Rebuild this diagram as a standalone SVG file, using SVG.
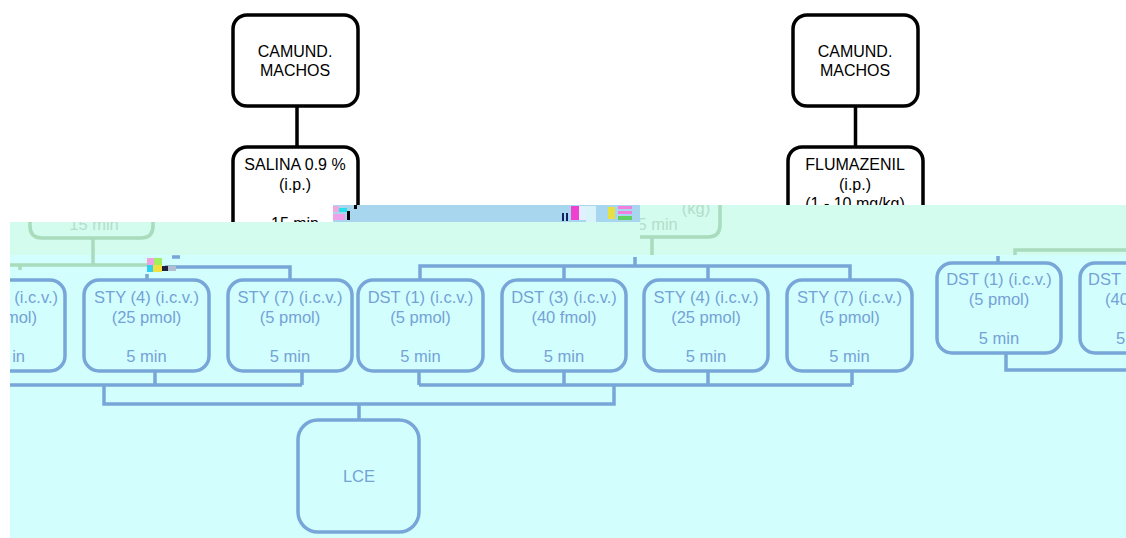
<svg xmlns="http://www.w3.org/2000/svg" width="1126" height="538" viewBox="0 0 1126 538">
<style>
.bk{fill:#fff;stroke:#000;stroke-width:3.5}
.bt{font-family:"Liberation Sans",Arial,sans-serif;font-size:16px;fill:#000;text-anchor:middle}
.bl{fill:none;stroke:#78a6d8;stroke-width:3.5}
.bn{fill:none;stroke:#78a6d8;stroke-width:3.5}
.tx{font-family:"Liberation Sans",Arial,sans-serif;font-size:16.5px;fill:#74a2d6;text-anchor:middle}
.gr{fill:none;stroke:#a8dcbc;stroke-width:3.5}
.gt{font-family:"Liberation Sans",Arial,sans-serif;font-size:16.5px;fill:#b4decb;text-anchor:middle}
</style>
<defs>
<clipPath id="cL"><rect x="10" y="222" width="1116" height="316"/></clipPath>
<clipPath id="cR"><rect x="640" y="205" width="486" height="333"/></clipPath>
<clipPath id="cB"><rect x="10" y="255" width="1116" height="283"/></clipPath>
</defs>
<rect width="1126" height="538" fill="#fff"/>

<g id="n-camund-left">
<rect class="bk" x="233" y="15" width="125" height="91" rx="14"/>
<text class="bt" x="295" y="57">CAMUND.</text>
<text class="bt" x="295" y="76">MACHOS</text>
</g>
<g id="n-salina">
<rect class="bk" x="233" y="147" width="125" height="120" rx="14"/>
<text class="bt" x="295" y="170" font-size="17.2">SALINA 0.9 %</text>
<text class="bt" x="295" y="190" font-size="17">(i.p.)</text>
<text class="bt" x="295" y="229" font-size="17">15 min</text>
</g>
<g id="n-camund-right">
<rect class="bk" x="793" y="15" width="125" height="91" rx="14"/>
<text class="bt" x="855" y="57">CAMUND.</text>
<text class="bt" x="855" y="76">MACHOS</text>
</g>
<g id="n-flumazenil">
<rect class="bk" x="788" y="147" width="135" height="120" rx="14"/>
<text class="bt" x="855" y="170" font-size="17">FLUMAZENIL</text>
<text class="bt" x="855" y="190" font-size="17">(i.p.)</text>
<text class="bt" x="855" y="209" font-size="17">(1 - 10 mg/kg)</text>
</g>
<g id="top-connectors">
<path d="M297 106V147M855.5 106V147" stroke="#000" stroke-width="3.5" fill="none"/>
</g>

<rect x="10" y="222" width="1116" height="33" fill="#d3fbee"/>
<rect x="640" y="205" width="486" height="17" fill="#d3fbee"/>
<g id="glitch-strip">
<rect x="333" y="205" width="307" height="17" fill="#a7d6ee"/>
<rect x="333" y="206" width="6" height="6" fill="#f3a6dc"/>
<rect x="339" y="208" width="8" height="4" fill="#28e0ea"/>
<rect x="333" y="214" width="12" height="6" fill="#f0a0e8"/>
<rect x="347" y="211" width="3" height="9" fill="#000"/>
<rect x="354" y="205" width="3" height="4" fill="#000"/>
<rect x="562" y="213" width="2" height="8" fill="#102060"/>
<rect x="566" y="213" width="2" height="8" fill="#102060"/>
<rect x="571" y="206" width="8" height="14" fill="#f040d0"/>
<rect x="579" y="206" width="7" height="14" fill="#e0f0ff"/>
<rect x="586" y="206" width="10" height="16" fill="#d8f4fa"/>
<rect x="608" y="207" width="7" height="12" fill="#e8e040"/>
<rect x="618" y="206" width="14" height="3" fill="#f080e0"/>
<rect x="618" y="211" width="14" height="3" fill="#f080e0"/>
<rect x="618" y="216" width="14" height="4" fill="#60d060"/>
</g>
<rect x="10" y="255" width="1116" height="283" fill="#d3fefe"/>

<g id="n-green-left" clip-path="url(#cL)">
<path class="gr" d="M30 210V226Q30 238 42 238H141Q153 238 153 226V210"/>
<text class="gt" x="94" y="230">15 min</text>
</g>
<g id="n-green-right" clip-path="url(#cR)">
<path class="gr" d="M585 200V225Q585 237 597 237H708Q720 237 720 225V200"/>
<text class="gt" x="696" y="214">(kg)</text>
<text class="gt" x="653" y="230">15 min</text>
</g>

<g id="connectors">
<path class="gr" d="M93 238V265M10 265H148M20 265V270M652 237V255M1015 255V250H1126"/>
<g clip-path="url(#cB)">
<path class="bl" d="M165 267H290V280M147 274V280M172 257H180M420 280V266H850V280M564 266V280M708 266V280M635 257V266M998 256V263"/>
<path class="bl" d="M10 385H302M155 371V385M302 371V385M104 385V404H614V385M419 385H852M419 371V385M564 371V385M708 371V385M852 371V385M359 404V420M1006 353V370H1126"/>
</g>
<g id="glitch-blob">
<rect x="147" y="258" width="7" height="7" fill="#f0a0e0"/>
<rect x="154" y="258" width="8" height="7" fill="#a0f060"/>
<rect x="147" y="265" width="6" height="7" fill="#30d0f0"/>
<rect x="153" y="265" width="9" height="7" fill="#f0e040"/>
<rect x="162" y="266" width="6" height="5" fill="#202040"/>
<rect x="168" y="266" width="8" height="5" fill="#b0c0d0"/>
</g>
</g>

<g clip-path="url(#cB)">
<g id="n-a">
<rect class="bn" x="-60" y="280" width="125" height="91" rx="15"/>
<text class="tx" x="58" y="303" style="text-anchor:end">(i.c.v.)</text>
<text class="tx" x="37" y="323" style="text-anchor:end">mol)</text>
<text class="tx" x="25" y="362" style="text-anchor:end">in</text>
</g>
<g id="n-sty4">
<rect class="bn" x="84" y="280" width="125" height="91" rx="15"/>
<text class="tx" x="146.5" y="303">STY (4) (i.c.v.)</text>
<text class="tx" x="146.5" y="323">(25 pmol)</text>
<text class="tx" x="146.5" y="362">5 min</text>
</g>
<g id="n-sty7">
<rect class="bn" x="228" y="280" width="124" height="91" rx="15"/>
<text class="tx" x="290" y="303">STY (7) (i.c.v.)</text>
<text class="tx" x="290" y="323">(5 pmol)</text>
<text class="tx" x="290" y="362">5 min</text>
</g>
<g id="n-dst1">
<rect class="bn" x="358" y="280" width="125" height="91" rx="15"/>
<text class="tx" x="420.5" y="303">DST (1) (i.c.v.)</text>
<text class="tx" x="420.5" y="323">(5 pmol)</text>
<text class="tx" x="420.5" y="362">5 min</text>
</g>
<g id="n-dst3">
<rect class="bn" x="502" y="280" width="124" height="91" rx="15"/>
<text class="tx" x="564" y="303">DST (3) (i.c.v.)</text>
<text class="tx" x="564" y="323">(40 fmol)</text>
<text class="tx" x="564" y="362">5 min</text>
</g>
<g id="n-sty4b">
<rect class="bn" x="644" y="280" width="124" height="91" rx="15"/>
<text class="tx" x="706" y="303">STY (4) (i.c.v.)</text>
<text class="tx" x="706" y="323">(25 pmol)</text>
<text class="tx" x="706" y="362">5 min</text>
</g>
<g id="n-sty7b">
<rect class="bn" x="787" y="280" width="125" height="91" rx="15"/>
<text class="tx" x="849.5" y="303">STY (7) (i.c.v.)</text>
<text class="tx" x="849.5" y="323">(5 pmol)</text>
<text class="tx" x="849.5" y="362">5 min</text>
</g>
<g id="n-dst1b">
<rect class="bn" x="937" y="263" width="124" height="90" rx="15"/>
<text class="tx" x="999" y="285">DST (1) (i.c.v.)</text>
<text class="tx" x="999" y="305">(5 pmol)</text>
<text class="tx" x="999" y="344">5 min</text>
</g>
<g id="n-dst3b">
<rect class="bn" x="1080" y="263" width="125" height="90" rx="15"/>
<text class="tx" x="1088" y="285" style="text-anchor:start">DST</text>
<text class="tx" x="1105" y="305" style="text-anchor:start">(40</text>
<text class="tx" x="1116" y="344" style="text-anchor:start">5</text>
</g>
<g id="n-lce">
<rect class="bn" x="298" y="420" width="121" height="112" rx="20"/>
<text class="tx" x="359" y="482" font-size="15">LCE</text>
</g>
</g>
</svg>
